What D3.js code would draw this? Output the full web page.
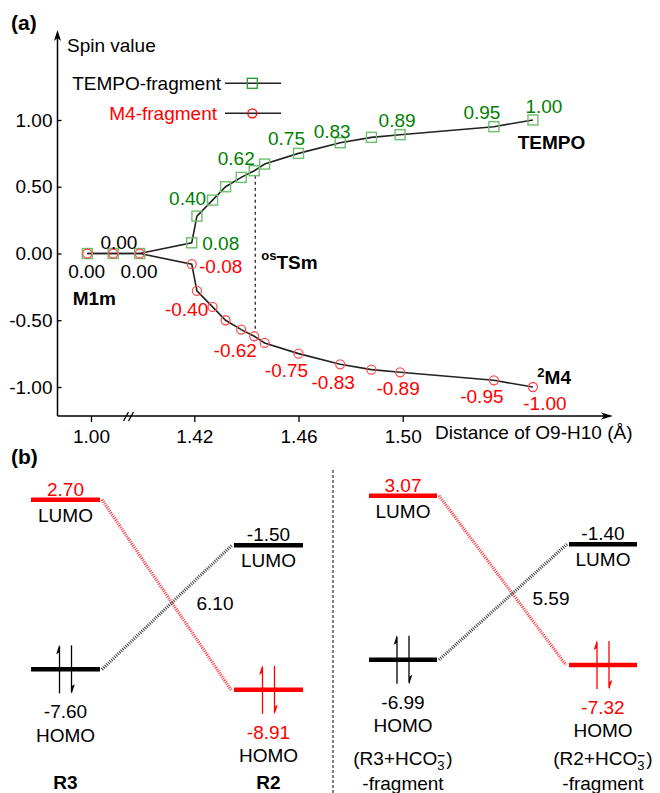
<!DOCTYPE html>
<html>
  <head>
    <meta charset="UTF-8">
    <title>Spin values and frontier orbitals</title>
    <script src="https://cdn.jsdelivr.net/npm/d3@7/dist/d3.min.js"></script>
    <style>
      body, html { margin:0; padding:0; background:#fff; }
      svg text { font-family: "Liberation Sans", Arial, sans-serif; font-size: 19px; }
      .bold { font-weight: bold; }
    </style>
  </head>
  <body>
  <div id="chart"></div>
<script type="text/javascript">

// (a) spin values along the O9-H10 distance
const distance  = [0.99, 1.06, 1.399, 1.419, 1.421, 1.427, 1.432, 1.438, 1.443, 1.447, 1.460, 1.476, 1.488, 1.499, 1.535, 1.550];
const spinTempo = [0.00, 0.00, 0.00, 0.08, 0.28, 0.40, 0.50, 0.57, 0.62, 0.67, 0.75, 0.83, 0.87, 0.89, 0.95, 1.00];
const spinM4    = [0.00, 0.00, 0.00, -0.08, -0.28, -0.40, -0.50, -0.57, -0.62, -0.67, -0.75, -0.83, -0.87, -0.89, -0.95, -1.00];
const labelIdx  = [3, 5, 8, 10, 11, 13, 14, 15];
const zeroIdx   = [0, 1, 2];
const tsIdx     = 8;
const xTicks    = [1.00, 1.42, 1.46, 1.50];
const yTicks    = [1.00, 0.50, 0.00, -0.50, -1.00];

// (b) frontier orbital energies (eV)
const fragments = ['R3', 'R2', 'R3+HCO3', 'R2+HCO3'];
const lumo      = [2.70, -1.50, 3.07, -1.40];
const homo      = [-7.60, -8.91, -6.99, -7.32];
const panels    = [[0, 1], [2, 3]];

const RED = '#ff0000', GREEN = '#008000';
const fmt = d => d.toFixed(2);

var svg = d3.select('#chart').append('svg').attr('width', 660).attr('height', 793);

// ---------- (a) ----------
// broken x axis: left part compressed, break near 1.10
var x = d3.scaleLinear().domain([0.95, 1.10, 1.395, 1.56]).range([72.5, 128, 129.2, 559]);
var y = d3.scaleLinear().domain([-1, 1]).range([387, 120]);
var axisX0 = 57.5, axisY0 = 416;

svg.append('text').attr('class', 'bold').attr('x', 11).attr('y', 30).attr('font-size', 21).style('font-size', '21px').text('(a)');

var xa = svg.append('g').attr('transform', 'translate(0,' + axisY0 + ')')
  .call(d3.axisBottom(x).tickValues(xTicks).tickFormat(fmt).tickSize(6).tickPadding(8));
var ya = svg.append('g').attr('transform', 'translate(' + axisX0 + ',0)')
  .call(d3.axisLeft(y).tickValues(yTicks).tickFormat(fmt).tickSizeInner(-4).tickSizeOuter(0).tickPadding(5));
[xa, ya].forEach(function(g) {
  g.select('.domain').remove();
  g.attr('font-size', null).attr('font-family', null);
  g.selectAll('line').attr('stroke', '#000').attr('stroke-width', 1.3);
  g.selectAll('text').attr('fill', '#000');
});

// axis lines with arrow heads
svg.append('line').attr('x1', axisX0).attr('x2', axisX0).attr('y1', axisY0).attr('y2', 36)
  .attr('stroke', '#000').attr('stroke-width', 1.5);
svg.append('line').attr('x1', axisX0).attr('x2', 606).attr('y1', axisY0).attr('y2', axisY0)
  .attr('stroke', '#000').attr('stroke-width', 1.5);
svg.append('path').attr('d', 'M57.5,30 L54,41 L57.5,38 L61,41 Z').attr('fill', '#000');
svg.append('path').attr('d', 'M613,416 L601,412.5 L604,416 L601,419.5 Z').attr('fill', '#000');

// axis break
[-2.5, 2.5].forEach(function(o) {
  svg.append('line').attr('x1', 126 + o).attr('y1', 421).attr('x2', 131 + o).attr('y2', 412)
    .attr('stroke', '#000').attr('stroke-width', 1.3);
});

svg.append('text').attr('x', 67).attr('y', 52).text('Spin value');
svg.append('text').attr('x', 435).attr('y', 439).text('Distance of O9-H10 (\u00C5)');

// legend
var leg = [{name: 'TEMPO-fragment', color: '#000', y: 83.3, tx: 221, shape: 'square'},
           {name: 'M4-fragment', color: RED, y: 113.3, tx: 217, shape: 'circle'}];
leg.forEach(function(l) {
  svg.append('text').attr('x', l.tx).attr('y', l.y + 6.5).attr('text-anchor', 'end').attr('fill', l.color).text(l.name);
  svg.append('line').attr('x1', 225).attr('x2', 281).attr('y1', l.y).attr('y2', l.y).attr('stroke', '#222').attr('stroke-width', 1.5);
  if (l.shape == 'square') {
    svg.append('rect').attr('x', 247.3).attr('y', l.y - 5).attr('width', 10).attr('height', 10)
      .attr('fill', 'none').attr('stroke', '#2a9a2a').attr('stroke-width', 1.3);
  } else {
    svg.append('circle').attr('cx', 252.3).attr('cy', l.y).attr('r', 4.5)
      .attr('fill', 'none').attr('stroke', RED).attr('stroke-width', 1.3);
  }
});

// transition state marker
svg.append('line')
  .attr('x1', x(distance[tsIdx]) + 1).attr('x2', x(distance[tsIdx]) + 1)
  .attr('y1', y(spinTempo[tsIdx]) + 5).attr('y2', y(spinM4[tsIdx]) - 5)
  .attr('stroke', '#000').attr('stroke-width', 1.1).attr('stroke-dasharray', '3,3');

var line = d3.line().x(function(d, i) { return x(distance[i]); }).y(function(d) { return y(d); });
[spinTempo, spinM4].forEach(function(s) {
  svg.append('path').datum(s).attr('d', line).attr('fill', 'none').attr('stroke', '#222').attr('stroke-width', 1.6);
});

svg.selectAll('.sq').data(spinTempo).enter().append('rect').attr('class', 'sq')
  .attr('x', function(d, i) { return x(distance[i]) - 5; })
  .attr('y', function(d) { return y(d) - 5; })
  .attr('width', 10).attr('height', 10)
  .attr('fill', 'none').attr('stroke', '#6cc06c').attr('stroke-width', 1.4);
svg.selectAll('.ci').data(spinM4).enter().append('circle').attr('class', 'ci')
  .attr('cx', function(d, i) { return x(distance[i]); })
  .attr('cy', function(d) { return y(d); })
  .attr('r', 4.5)
  .attr('fill', 'none').attr('stroke', '#ff5050').attr('stroke-width', 1.3);

// value labels, offsets of the label centre from its point
var tempoOff = {3:[29,1], 5:[-25,-2], 8:[-18,-12], 10:[-12,-15], 11:[-8,-11], 13:[-3,-14], 14:[-12,-14], 15:[11,-14]};
var m4Off    = {3:[29,2], 5:[-26,2], 8:[-19,14], 10:[-12,17], 11:[-7,18], 13:[-2,16], 14:[-12,16], 15:[12,16]};
var zeroOff  = {0:[-0.6,18.3], 1:[5.7,-11.3], 2:[-0.6,18.2]};

function valueLabels(series, idx, off, color) {
  idx.forEach(function(i) {
    svg.append('text')
      .attr('x', x(distance[i]) + off[i][0]).attr('y', y(series[i]) + off[i][1])
      .attr('dy', '0.35em').attr('text-anchor', 'middle').attr('fill', color)
      .text(fmt(series[i]));
  });
}
valueLabels(spinTempo, labelIdx, tempoOff, GREEN);
valueLabels(spinM4, labelIdx, m4Off, RED);
valueLabels(spinTempo, zeroIdx, zeroOff, '#000');

// species names
var last = distance.length - 1;
svg.append('text').attr('class', 'bold').attr('x', x(distance[0]) - 14.6).attr('y', y(0) + 51.5).text('M1m');
svg.append('text').attr('class', 'bold').attr('x', x(distance[last]) - 15.3).attr('y', y(spinTempo[last]) + 28.5).text('TEMPO');
var ts = svg.append('text').attr('class', 'bold').attr('x', x(distance[tsIdx]) + 7).attr('y', y(0) + 15);
ts.append('tspan').attr('font-size', 13).attr('dy', -8.5).text('os');
ts.append('tspan').attr('dy', 8.5).text('TSm');
var m4 = svg.append('text').attr('class', 'bold').attr('x', x(distance[last]) + 4.4).attr('y', y(spinM4[last]) - 2.7);
m4.append('tspan').attr('font-size', 13).attr('dy', -7.5).text('2');
m4.append('tspan').attr('dy', 7.5).text('M4');

// ---------- (b) ----------
svg.append('text').attr('class', 'bold').attr('x', 11).attr('y', 464).style('font-size', '21px').text('(b)');

// energy axis broken between the HOMO and the LUMO bands
var e = d3.scaleLinear().domain([-9, -6.5, -1.6, 3.2]).range([691.2, 652.2, 546.3, 494.3]);
var panelRange = [[31, 303], [369, 637]];

svg.append('line').attr('x1', 333).attr('x2', 333).attr('y1', 470).attr('y2', 793)
  .attr('stroke', '#000').attr('stroke-width', 1).attr('stroke-dasharray', '3,2');

function drawLevel(x0, w, yv, color, value, kind) {
  svg.append('line').attr('x1', x0).attr('x2', x0 + w).attr('y1', yv).attr('y2', yv)
    .attr('stroke', color).attr('stroke-width', 4.5);
  var cx = x0 + w / 2;
  if (kind == 'LUMO') {
    svg.append('text').attr('x', cx).attr('y', yv - 4.2).attr('text-anchor', 'middle').attr('fill', color == RED ? RED : '#000').text(fmt(value));
    svg.append('text').attr('x', cx).attr('y', yv + 21.8).attr('text-anchor', 'middle').text('LUMO');
  } else {
    svg.append('text').attr('x', cx).attr('y', yv + 48.8).attr('text-anchor', 'middle').attr('fill', color == RED ? RED : '#000').text(fmt(value));
    svg.append('text').attr('x', cx).attr('y', yv + 72.3).attr('text-anchor', 'middle').text('HOMO');
    // electron pair
    var ux = cx - 6, dx = cx + 6, top = yv - 25, bot = yv + 25;
    svg.append('line').attr('x1', ux).attr('x2', ux).attr('y1', yv + 24).attr('y2', top + 2).attr('stroke', color).attr('stroke-width', 1.3);
    svg.append('path').attr('d', 'M' + ux + ',' + top + ' L' + (ux - 3.3) + ',' + (top + 10) + ' L' + ux + ',' + (top + 8) + ' Z').attr('fill', color);
    svg.append('line').attr('x1', dx).attr('x2', dx).attr('y1', yv - 24).attr('y2', bot - 2).attr('stroke', color).attr('stroke-width', 1.3);
    svg.append('path').attr('d', 'M' + dx + ',' + bot + ' L' + (dx + 3.3) + ',' + (bot - 10) + ' L' + dx + ',' + (bot - 8) + ' Z').attr('fill', color);
  }
}

panels.forEach(function(pair, p) {
  var band = d3.scaleBand().domain(pair).range(panelRange[p]).paddingInner(0.66);
  var w = band.bandwidth();
  var a = pair[0], b = pair[1];

  // interaction lines
  svg.append('line').attr('x1', band(a) + w + 2).attr('y1', e(lumo[a])).attr('x2', band(b) - 3).attr('y2', e(homo[b]))
    .attr('stroke', RED).attr('stroke-width', 3.2).attr('stroke-dasharray', '1,1.2').attr('opacity', 0.8);
  svg.append('line').attr('x1', band(a) + w + 2).attr('y1', e(homo[a])).attr('x2', band(b) - 2).attr('y2', e(lumo[b]))
    .attr('stroke', '#222').attr('stroke-width', 3.2).attr('stroke-dasharray', '1,1.2').attr('opacity', 0.85);

  drawLevel(band(a), w, e(lumo[a]), RED, lumo[a], 'LUMO');
  drawLevel(band(a), w, e(homo[a]), '#000', homo[a], 'HOMO');
  drawLevel(band(b), w, e(lumo[b]), '#000', lumo[b], 'LUMO');
  drawLevel(band(b), w, e(homo[b]), RED, homo[b], 'HOMO');

  // gap between donor HOMO and acceptor LUMO
  var mx = (band(a) + w + band(b)) / 2, my = (e(homo[a]) + e(lumo[b])) / 2;
  svg.append('text').attr('x', mx + 48).attr('y', my - 4).attr('dy', '0.35em').attr('text-anchor', 'middle')
    .text(fmt(lumo[b] - homo[a]));

  pair.forEach(function(f) {
    var cx = band(f) + w / 2;
    if (fragments[f].indexOf('+') < 0) {
      svg.append('text').attr('class', 'bold').attr('x', cx).attr('y', 788.5).attr('text-anchor', 'middle').text(fragments[f]);
    } else {
      // HCO3- with stacked sub/superscript
      var t = svg.append('text').attr('x', cx).attr('y', 764.5).attr('text-anchor', 'middle');
      t.append('tspan').text('(' + fragments[f].slice(0, -1));
      t.append('tspan').style('font-size', '13px').attr('dy', 5).text('3');
      t.append('tspan').style('font-size', '13px').attr('font-weight', 'bold').attr('dx', -7.2).attr('dy', -10).text('\u2212');
      t.append('tspan').attr('dx', 1.5).attr('dy', 5).text(')');
      svg.append('text').attr('x', cx).attr('y', 790).attr('text-anchor', 'middle').text('-fragment');
    }
  });
});

</script>
  </body>
</html>
